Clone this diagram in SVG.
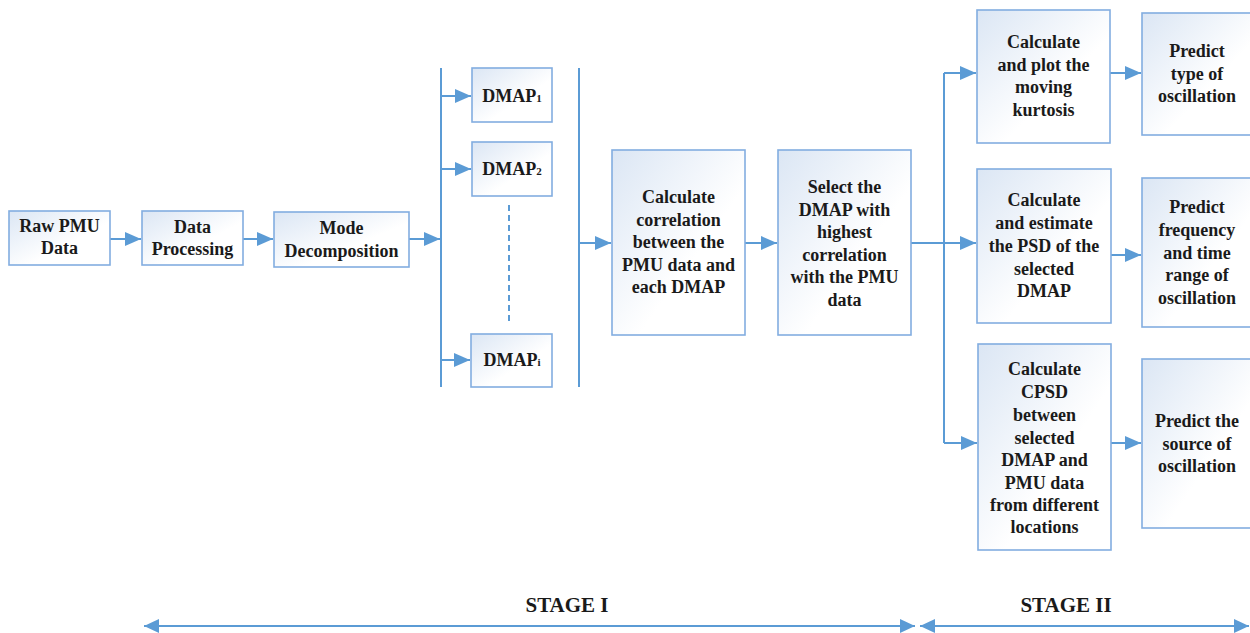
<svg xmlns="http://www.w3.org/2000/svg" width="1250" height="633" viewBox="0 0 1250 633" font-family="Liberation Serif, DejaVu Serif, serif">
<style>
.box{fill:url(#g);stroke:#82ade0;stroke-width:1.6}
text{font-family:"Liberation Serif","DejaVu Serif",serif}
.t{font-weight:bold;font-size:18px;fill:#1a1a1a;text-anchor:middle}
.st{font-weight:bold;font-size:21px;fill:#1a1a1a;text-anchor:middle}
.c{stroke:#5b9bd5;stroke-width:2;fill:none}
.a{marker-end:url(#ah)}
</style>
<defs>
<linearGradient id="g" x1="0" y1="0" x2="1" y2="1">
<stop offset="0" stop-color="#dbe6f4"/>
<stop offset="0.6" stop-color="#ffffff"/>
</linearGradient>
<marker id="ah" markerUnits="userSpaceOnUse" markerWidth="16" markerHeight="14" refX="16" refY="7" orient="auto">
<path d="M0,0 L16,7 L0,14 z" fill="#5b9bd5"/>
</marker>
<marker id="as" markerUnits="userSpaceOnUse" markerWidth="15" markerHeight="14" refX="15" refY="7" orient="auto-start-reverse">
<path d="M0,0 L15,7 L0,14 z" fill="#5b9bd5"/>
</marker>
</defs>

<g id="connectors">
<line class="c a" x1="110" y1="239" x2="141" y2="239"/>
<line class="c a" x1="243" y1="239" x2="273" y2="239"/>
<line class="c a" x1="409" y1="239" x2="440" y2="239"/>
<line class="c" x1="441" y1="68" x2="441" y2="387"/>
<line class="c a" x1="441" y1="96" x2="471" y2="96"/>
<line class="c a" x1="441" y1="169" x2="471" y2="169"/>
<line class="c a" x1="441" y1="360" x2="470" y2="360"/>
<line class="c" x1="509" y1="205" x2="509" y2="325" stroke-dasharray="6,4"/>
<line class="c" x1="579" y1="68" x2="579" y2="387"/>
<line class="c a" x1="579" y1="243" x2="611" y2="243"/>
<line class="c a" x1="745" y1="243" x2="777" y2="243"/>
<line class="c" x1="911" y1="243" x2="944" y2="243"/>
<line class="c" x1="944" y1="73" x2="944" y2="443"/>
<line class="c a" x1="944" y1="73" x2="976" y2="73"/>
<line class="c a" x1="944" y1="243" x2="976" y2="243"/>
<line class="c a" x1="944" y1="443" x2="977" y2="443"/>
<line class="c a" x1="1110" y1="73" x2="1141" y2="73"/>
<line class="c a" x1="1111" y1="255" x2="1141" y2="255"/>
<line class="c a" x1="1111" y1="443" x2="1141" y2="443"/>
<line class="c" x1="144" y1="626" x2="915" y2="626" marker-start="url(#as)" marker-end="url(#as)"/>
<line class="c" x1="920" y1="626" x2="1249" y2="626" marker-start="url(#as)" marker-end="url(#as)"/>
</g>

<g id="raw"><rect class="box" x="9" y="211" width="101" height="54"/>
<text class="t"><tspan x="59.5" y="232">Raw PMU</tspan><tspan x="59.5" y="254">Data</tspan></text></g>
<g id="proc"><rect class="box" x="142" y="211" width="101" height="54"/>
<text class="t"><tspan x="192.5" y="233">Data</tspan><tspan x="192.5" y="255">Processing</tspan></text></g>
<g id="mode"><rect class="box" x="274" y="212" width="135" height="55"/>
<text class="t"><tspan x="341.5" y="234">Mode</tspan><tspan x="341.5" y="257">Decomposition</tspan></text></g>

<g id="dmap1"><rect class="box" x="472" y="68" width="80" height="54"/>
<text class="t" x="512" y="102">DMAP<tspan font-size="11">1</tspan></text></g>
<g id="dmap2"><rect class="box" x="472" y="142" width="80" height="54"/>
<text class="t" x="512" y="175">DMAP<tspan font-size="11">2</tspan></text></g>
<g id="dmapi"><rect class="box" x="471" y="334" width="81" height="53"/>
<text class="t" x="512" y="366">DMAP<tspan font-size="11">i</tspan></text></g>

<g id="corr"><rect class="box" x="612" y="150" width="133" height="185"/>
<text class="t"><tspan x="678.5" y="203">Calculate</tspan><tspan x="678.5" y="225.5">correlation</tspan><tspan x="678.5" y="248">between the</tspan><tspan x="678.5" y="270.5">PMU data and</tspan><tspan x="678.5" y="293">each DMAP</tspan></text></g>
<g id="select"><rect class="box" x="778" y="150" width="133" height="185"/>
<text class="t"><tspan x="844.5" y="193">Select the</tspan><tspan x="844.5" y="215.5">DMAP with</tspan><tspan x="844.5" y="238">highest</tspan><tspan x="844.5" y="260.5">correlation</tspan><tspan x="844.5" y="283">with the PMU</tspan><tspan x="844.5" y="305.5">data</tspan></text></g>

<g id="kurt"><rect class="box" x="977" y="10" width="133" height="133"/>
<text class="t"><tspan x="1043.5" y="48">Calculate</tspan><tspan x="1043.5" y="71">and plot the</tspan><tspan x="1043.5" y="93">moving</tspan><tspan x="1043.5" y="116">kurtosis</tspan></text></g>
<g id="psd"><rect class="box" x="977" y="169" width="134" height="154"/>
<text class="t"><tspan x="1044" y="206">Calculate</tspan><tspan x="1044" y="228.5">and estimate</tspan><tspan x="1044" y="251.5">the PSD of the</tspan><tspan x="1044" y="274.5">selected</tspan><tspan x="1044" y="297">DMAP</tspan></text></g>
<g id="cpsd"><rect class="box" x="978" y="344" width="133" height="206"/>
<text class="t"><tspan x="1044.5" y="375">Calculate</tspan><tspan x="1044.5" y="397.5">CPSD</tspan><tspan x="1044.5" y="420.5">between</tspan><tspan x="1044.5" y="443.5">selected</tspan><tspan x="1044.5" y="466">DMAP and</tspan><tspan x="1044.5" y="488.5">PMU  data</tspan><tspan x="1044.5" y="511">from different</tspan><tspan x="1044.5" y="533">locations</tspan></text></g>

<g id="ptype"><rect class="box" x="1142" y="13" width="115" height="122"/>
<text class="t"><tspan x="1197" y="57">Predict</tspan><tspan x="1197" y="79.5">type of</tspan><tspan x="1197" y="102">oscillation</tspan></text></g>
<g id="pfreq"><rect class="box" x="1142" y="178" width="115" height="149"/>
<text class="t"><tspan x="1197" y="213">Predict</tspan><tspan x="1197" y="236">frequency</tspan><tspan x="1197" y="259">and time</tspan><tspan x="1197" y="281">range of</tspan><tspan x="1197" y="304">oscillation</tspan></text></g>
<g id="psrc"><rect class="box" x="1142" y="359" width="115" height="169"/>
<text class="t"><tspan x="1197" y="427">Predict the</tspan><tspan x="1197" y="450">source of</tspan><tspan x="1197" y="472">oscillation</tspan></text></g>

<g id="stages">
<text class="st" x="567" y="612">STAGE I</text>
<text class="st" x="1066" y="612">STAGE II</text>
</g>
</svg>
